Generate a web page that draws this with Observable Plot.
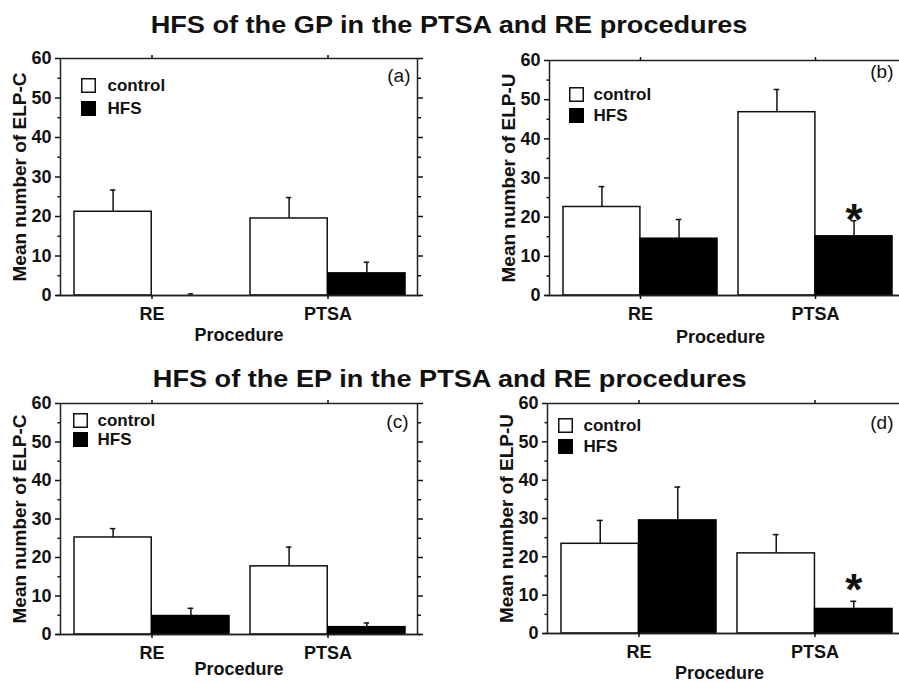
<!DOCTYPE html>
<html>
<head>
<meta charset="utf-8">
<script src="https://cdn.jsdelivr.net/npm/d3@7"></script>
<script src="https://cdn.jsdelivr.net/npm/@observablehq/plot@0.6"></script>
<style>
  body { margin: 0; width: 899px; height: 682px; overflow: hidden; background: #fff; position: relative;
         font-family: "Liberation Sans", Arial, sans-serif; color: #111; }
  .title { position: absolute; left: 0; width: 899px; text-align: center; font-weight: bold;
           font-size: 24px; line-height: 24px; white-space: nowrap; }
  .title span { display: inline-block; transform: scaleX(1.13); }
  .panel { position: absolute; }
  .panel svg { max-width: none !important; }
</style>
</head>
<body>
<div class="title" style="top:13px;"><span id="t1"></span></div>
<div class="title" style="top:367px;"><span id="t2"></span></div>
<div class="panel" id="pa" style="left:0px; top:40px; width:450px;"></div>
<div class="panel" id="pb" style="left:489px; top:42px; width:447px;"></div>
<div class="panel" id="pc" style="left:0px; top:385px; width:450px;"></div>
<div class="panel" id="pd" style="left:487px; top:385px; width:449px;"></div>
<script>
// ---------- data ----------
const titles = ["HFS of the GP in the PTSA and RE procedures", "HFS of the EP in the PTSA and RE procedures"];
const procedures = ["RE", "PTSA"];
const groups = ["control", "HFS"];
const yTicks = [0, 10, 20, 30, 40, 50, 60];
const yMinorTicks = [5, 15, 25, 35, 45, 55];
const xLabel = "Procedure";

// panel (a): ELP-C, GP
const aControl = [21.2, 19.5];
const aControlSem = [5.5, 5.3];
const aHFS = [0.0, 5.6];
const aHFSSem = [0.4, 2.8];
// panel (b): ELP-U, GP
const bControl = [22.6, 46.8];
const bControlSem = [5.2, 5.8];
const bHFS = [14.5, 15.1];
const bHFSSem = [4.9, 4.0];
const bStarProc = ["PTSA"];
const bStarY = [22.2];
// panel (c): ELP-C, EP
const cControl = [25.2, 17.7];
const cControlSem = [2.3, 5.0];
const cHFS = [4.8, 1.9];
const cHFSSem = [2.0, 1.1];
// panel (d): ELP-U, EP
const dControl = [23.4, 20.9];
const dControlSem = [6.1, 4.9];
const dHFS = [29.5, 6.4];
const dHFSSem = [8.7, 2.0];
const dStarProc = ["PTSA"];
const dStarY = [14.2];

document.getElementById("t1").textContent = titles[0];
document.getElementById("t2").textContent = titles[1];

const INK = "#111";
const FONT = "'Liberation Sans', Arial, sans-serif";

function drawPanel(cfg) {
  const {ctrl, ctrlSem, hfs, hfsSem, starProc, starY, yLabel, tag,
         width, height, ml, mr, mt, mb, procDy, procDx, tagDx, tagDy, leg} = cfg;
  const rows = [];
  procedures.forEach((p, i) => {
    rows.push({proc: p, group: groups[0], value: ctrl[i], top: ctrl[i] + ctrlSem[i]});
    rows.push({proc: p, group: groups[1], value: hfs[i], top: hfs[i] + hfsSem[i]});
  });
  const ctrlRows = rows.filter(d => d.group === groups[0]);
  const hfsRows = rows.filter(d => d.group === groups[1]);
  const stars = (starProc || []).map((p, i) => ({proc: p, value: starY[i]}));
  const xOpts = {domain: procedures, paddingInner: 0.12, paddingOuter: 0.07, align: 0.55};
  const bw = Plot.scale({x: {type: "band", ...xOpts, range: [ml, width - mr]}}).bandwidth;
  const cap = 3;
  const sw = 1.5;
  return Plot.plot({
    width, height, marginLeft: ml, marginRight: mr, marginTop: mt, marginBottom: mb,
    style: {fontFamily: FONT, fontSize: "18px", color: INK, background: "transparent", overflow: "visible", maxWidth: "none"},
    x: {type: "band", ...xOpts},
    y: {domain: [0, 60]},
    marks: [
      Plot.barY(ctrlRows, {x: "proc", y: "value", insetRight: bw / 2, fill: "white", stroke: INK, strokeWidth: sw}),
      Plot.barY(hfsRows, {x: "proc", y: "value", insetLeft: bw / 2, fill: "#000", stroke: "#000", strokeWidth: sw}),
      Plot.ruleX(ctrlRows, {x: "proc", y1: "value", y2: "top", dx: -bw / 4, stroke: INK, strokeWidth: sw}),
      Plot.ruleX(hfsRows, {x: "proc", y1: "value", y2: "top", dx: bw / 4, stroke: INK, strokeWidth: sw}),
      Plot.tickY(ctrlRows, {x: "proc", y: "top", insetLeft: bw / 4 - cap, insetRight: 3 * bw / 4 - cap, stroke: INK, strokeWidth: sw}),
      Plot.tickY(hfsRows, {x: "proc", y: "top", insetLeft: 3 * bw / 4 - cap, insetRight: bw / 4 - cap, stroke: INK, strokeWidth: sw}),
      Plot.text(stars, {x: "proc", y: "value", dx: bw / 4, dy: 12, text: () => "*", fontSize: 44, fontWeight: "bold", fill: INK}),
      Plot.frame({stroke: "#222", strokeWidth: sw}),
      Plot.ruleY([0], {insetLeft: -4, insetRight: -4, stroke: "#222", strokeWidth: sw}),
      Plot.axisY({ticks: yTicks, tickSize: 5, tickPadding: 4, fontSize: 18, fontWeight: "bold", label: null, strokeWidth: sw}),
      Plot.axisY({ticks: yMinorTicks, tickSize: 2.5, tickFormat: () => "", label: null, strokeWidth: sw}),
      Plot.axisY({anchor: "right", ticks: yTicks, tickSize: 5, tickFormat: () => "", label: null, strokeWidth: sw}),
      Plot.axisY({anchor: "right", ticks: yMinorTicks, tickSize: 3, tickFormat: () => "", label: null, strokeWidth: sw}),
      Plot.axisX({anchor: "bottom", tickSize: 4, tickPadding: 8, fontSize: 18, fontWeight: "bold", label: null, strokeWidth: sw}),
      Plot.axisX({anchor: "top", tickSize: 4, tickFormat: () => "", label: null, strokeWidth: sw}),
      Plot.text([yLabel], {frameAnchor: "left", dx: -41, rotate: -90, text: d => d, fontSize: 19, fontWeight: "bold", textAnchor: "middle", lineAnchor: "middle", fill: INK}),
      Plot.text([xLabel], {frameAnchor: "bottom", dx: procDx, dy: procDy, text: d => d, fontSize: 18, fontWeight: "bold", textAnchor: "middle", lineAnchor: "middle", fill: INK}),
      Plot.text([tag], {frameAnchor: "top-right", dx: tagDx, dy: tagDy, text: d => d, fontSize: 19, textAnchor: "end", lineAnchor: "middle", fill: INK}),
      // legend
      Plot.dot([groups[0]], {frameAnchor: "top-left", dx: leg.sx, dy: leg.y0, symbol: "square", r: 7.6, fill: "white", stroke: INK, strokeWidth: sw}),
      Plot.dot([groups[1]], {frameAnchor: "top-left", dx: leg.sx, dy: leg.y1, symbol: "square", r: 7.6, fill: "#000", stroke: "#000", strokeWidth: sw}),
      Plot.text([groups[0]], {frameAnchor: "top-left", dx: leg.tx, dy: leg.y0, text: d => d, fontSize: 17, fontWeight: "bold", textAnchor: "start", lineAnchor: "middle", fill: INK}),
      Plot.text([groups[1]], {frameAnchor: "top-left", dx: leg.tx, dy: leg.y1, text: d => d, fontSize: 17, fontWeight: "bold", textAnchor: "start", lineAnchor: "middle", fill: INK})
    ]
  });
}

document.getElementById("pa").append(drawPanel({
  ctrl: aControl, ctrlSem: aControlSem, hfs: aHFS, hfsSem: aHFSSem,
  yLabel: "Mean number of ELP-C", tag: "(a)",
  width: 450, height: 305, ml: 60, mr: 33, mt: 18, mb: 50,
  procDx: 0, procDy: 40, tagDx: -7, tagDy: 17,
  leg: {sx: 28, tx: 47, y0: 27, y1: 50}
}));
document.getElementById("pb").append(drawPanel({
  ctrl: bControl, ctrlSem: bControlSem, hfs: bHFS, hfsSem: bHFSSem,
  starProc: bStarProc, starY: bStarY,
  yLabel: "Mean number of ELP-U", tag: "(b)",
  width: 447, height: 303, ml: 60, mr: 33, mt: 18, mb: 50,
  procDx: -6, procDy: 42, tagDx: -10, tagDy: 11,
  leg: {sx: 27, tx: 44, y0: 34, y1: 55}
}));
document.getElementById("pc").append(drawPanel({
  ctrl: cControl, ctrlSem: cControlSem, hfs: cHFS, hfsSem: cHFSSem,
  yLabel: "Mean number of ELP-C", tag: "(c)",
  width: 450, height: 297, ml: 60, mr: 33, mt: 18, mb: 48,
  procDx: 0, procDy: 35, tagDx: -9, tagDy: 18,
  leg: {sx: 20, tx: 37, y0: 17, y1: 36}
}));
document.getElementById("pd").append(drawPanel({
  ctrl: dControl, ctrlSem: dControlSem, hfs: dHFS, hfsSem: dHFSSem,
  starProc: dStarProc, starY: dStarY,
  yLabel: "Mean number of ELP-U", tag: "(d)",
  width: 449, height: 297, ml: 60, mr: 33, mt: 18, mb: 49,
  procDx: -6, procDy: 40, tagDx: -10, tagDy: 19,
  leg: {sx: 18, tx: 36, y0: 22, y1: 43}
}));
</script>
</body>
</html>
